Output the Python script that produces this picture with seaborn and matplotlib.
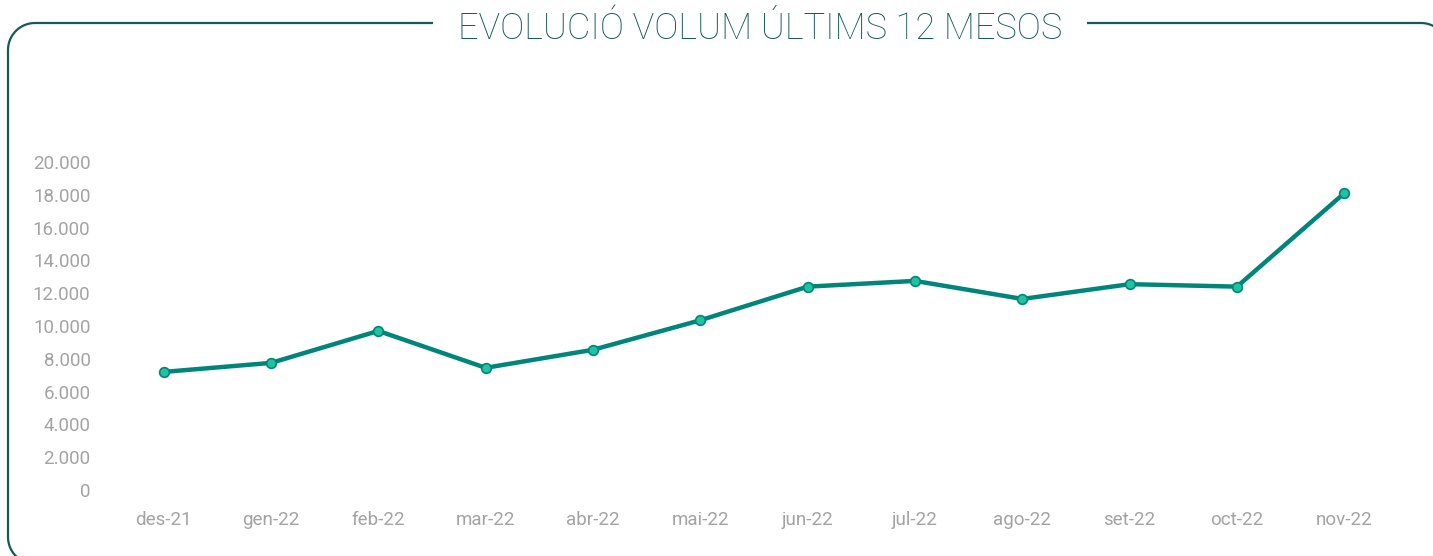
import matplotlib
matplotlib.use("Agg")
import matplotlib.pyplot as plt
import seaborn as sns
import pandas as pd
import numpy as np
from matplotlib.patches import PathPatch
from matplotlib.path import Path
from matplotlib.transforms import IdentityTransform
from matplotlib.ticker import FuncFormatter, MultipleLocator

months = ["des-21", "gen-22", "feb-22", "mar-22", "abr-22", "mai-22",
          "jun-22", "jul-22", "ago-22", "set-22", "oct-22", "nov-22"]
volume = [7200, 7750, 9700, 7450, 8550, 10350, 12400, 12750, 11650, 12550, 12400, 18100]
title = "EVOLUCIÓ VOLUM ÚLTIMS 12 MESOS"

df = pd.DataFrame({"mes": months, "volum": volume})

sns.set_theme(style="white")
plt.rcParams['font.family'] = ['Roboto', 'DejaVu Sans']

W, H = 1433, 556
fig = plt.figure(figsize=(W / 100, H / 100), dpi=100)
ax = fig.add_axes([110 / W, (H - 490) / H, (1398 - 110) / W, (490 - 162) / H])

line_color = "#00857a"
marker_fill = "#1fc3a0"
sns.lineplot(data=df, x="mes", y="volum", ax=ax, sort=False, color=line_color,
             linewidth=3.2, marker="o", markersize=7, markerfacecolor=marker_fill,
             markeredgecolor=line_color, markeredgewidth=1.2)

ax.set_xlim(-0.5, len(months) - 0.5)
ax.set_ylim(0, 20000)
ax.yaxis.set_major_locator(MultipleLocator(2000))
ax.yaxis.set_major_formatter(FuncFormatter(lambda v, p: f"{int(v):,}".replace(",", ".")))
ax.set_xlabel("")
ax.set_ylabel("")
for s in ax.spines.values():
    s.set_visible(False)
ax.grid(False)
ax.tick_params(axis="both", length=0, colors="#a3a3a3", labelsize=13.5)
ax.tick_params(axis="y", pad=14)
ax.tick_params(axis="x", pad=15)

# rounded frame in pixel coordinates (y measured from the bottom)
frame_color = "#15595a"
x0, x1, ytop, ybot, r = 8, 1448, H - 23, -8, 27


def arc(cx, cy, a0, a1, n=20):
    t = np.linspace(np.radians(a0), np.radians(a1), n)
    return list(zip(cx + r * np.cos(t), cy + r * np.sin(t)))


pts = []
pts += arc(x0 + r, ytop - r, 90, 180)
pts += arc(x0 + r, ybot + r, 180, 270)
pts += arc(x1 - r, ybot + r, 270, 360)
pts += arc(x1 - r, ytop - r, 0, 90)
pts.append(pts[0])
frame = PathPatch(Path(pts), transform=IdentityTransform(), fill=False,
                  edgecolor=frame_color, linewidth=1.6, clip_on=False)
fig.add_artist(frame)

fig.text(760 / W, (H - 29) / H, title, ha="center", va="center",
         fontsize=26, fontweight="light", color=frame_color,
         bbox=dict(facecolor="white", edgecolor="none", pad=18))

fig.savefig("out.png", dpi=100, facecolor="white")
